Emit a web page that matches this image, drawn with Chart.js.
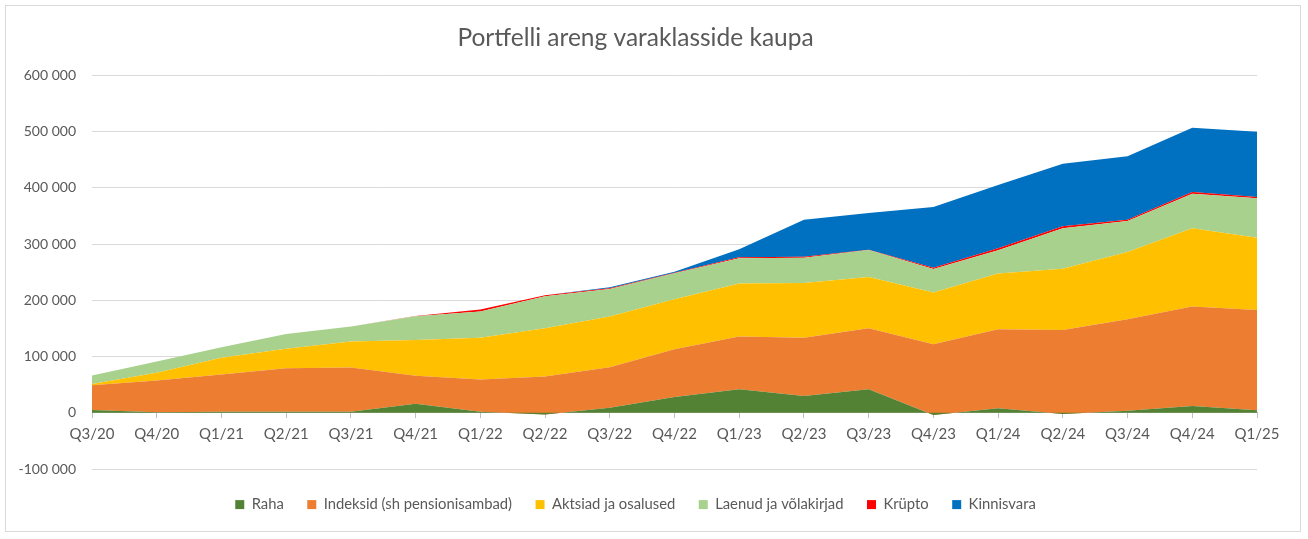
<!DOCTYPE html>
<html>
<head>
<meta charset="utf-8">
<script src="https://cdn.jsdelivr.net/npm/chart.js@4.4.1/dist/chart.umd.min.js"></script>
<style>
  html, body { margin: 0; padding: 0; background: #fff; }
  #wrap { position: relative; width: 1308px; height: 539px; }
  #frame { position: absolute; left: 5px; top: 5px; width: 1294px; height: 525px; border: 1px solid #d9d9d9; pointer-events: none; }
</style>
</head>
<body>
<div id="wrap">
  <canvas id="chart" width="1308" height="539"></canvas>
  <div id="frame"></div>
</div>
<script>
// Quarters on the x axis
const quarters = ['Q3/20', 'Q4/20', 'Q1/21', 'Q2/21', 'Q3/21', 'Q4/21', 'Q1/22', 'Q2/22', 'Q3/22', 'Q4/22',
  'Q1/23', 'Q2/23', 'Q3/23', 'Q4/23', 'Q1/24', 'Q2/24', 'Q3/24', 'Q4/24', 'Q1/25'];

// Values per asset class (EUR)
const raha        = [5000, 1000, 2000, 2000, 2000, 16000, 2000, -3000, 9000, 28000, 42000, 30000, 42000, -4000, 8000, -2000, 3500, 12000, 4700];
const indeksid    = [44000, 56400, 66100, 77300, 78500, 49700, 57200, 67500, 72100, 85100, 93600, 103200, 108400, 126000, 140600, 149400, 162900, 176800, 178200];
const aktsiad     = [2000, 13600, 29600, 34400, 46200, 63900, 74000, 85900, 90000, 88800, 94100, 97700, 91100, 91700, 98900, 108900, 119500, 139200, 128500];
const laenud      = [15100, 20200, 18900, 26600, 26600, 42100, 46800, 56800, 49100, 46100, 45000, 45000, 48000, 42000, 41400, 71700, 55100, 61500, 69900];
const krypto      = [0, 0, 0, 0, 0, 500, 3500, 2000, 1200, 1000, 2000, 1700, 500, 2400, 3500, 3500, 2400, 3000, 2300];
const kinnisvara  = [0, 0, 0, 0, 0, 0, 0, 0, 1800, 2000, 14000, 65800, 65200, 107800, 112500, 111300, 113000, 114300, 116000];

const seriesNames = ['Raha', 'Indeksid (sh pensionisambad)', 'Aktsiad ja osalused', 'Laenud ja võlakirjad', 'Krüpto', 'Kinnisvara'];
const seriesValues = [raha, indeksid, aktsiad, laenud, krypto, kinnisvara];
const seriesColors = ['#548235', '#ED7D31', '#FFC000', '#A9D18E', '#FF0000', '#0070C0'];

const yTicks = [-100000, 0, 100000, 200000, 300000, 400000, 500000, 600000];

const textColor = '#595959';
const fontFamily = 'Lato, "Open Sans", sans-serif';

// Thousands separated by a space, like the spreadsheet does
function formatNumber(v) {
  return String(v).replace(/\B(?=(\d{3})+(?!\d))/g, ' ');
}

const datasets = seriesNames.map((name, i) => ({
  label: name,
  data: seriesValues[i],
  backgroundColor: seriesColors[i],
  borderColor: seriesColors[i],
  borderWidth: 0,
  pointRadius: 0,
  tension: 0,
  fill: i === 0 ? 'origin' : '-1'
}));

new Chart(document.getElementById('chart'), {
  type: 'line',
  data: { labels: quarters, datasets: datasets },
  options: {
    responsive: false,
    animation: false,
    devicePixelRatio: 1,
    layout: { padding: { left: 14, right: 51, top: 0, bottom: 17 } },
    plugins: {
      title: {
        display: true,
        text: 'Portfelli areng varaklasside kaupa',
        color: textColor,
        font: { family: fontFamily, size: 24.5, weight: 'normal' },
        padding: { top: 23, bottom: 23 }
      },
      legend: {
        position: 'bottom',
        // empty title only used as spacing above the legend row
        title: { display: true, text: '', font: { size: 1 }, padding: { top: 0, bottom: 3.5 } },
        labels: {
          color: textColor,
          font: { family: fontFamily, size: 14.8 },
          boxWidth: 9,
          boxHeight: 9,
          padding: 23.5
        }
      },
      tooltip: { enabled: false }
    },
    scales: {
      x: {
        position: { y: 0 },
        offset: false,
        grid: { drawOnChartArea: false, drawTicks: true, tickLength: 5, color: '#bfbfbf' },
        border: { display: true, color: '#bfbfbf', width: 1 },
        ticks: { color: textColor, font: { family: fontFamily, size: 15 }, padding: 7, maxRotation: 0, autoSkip: false }
      },
      y: {
        stacked: 'single',
        min: -100000,
        max: 600000,
        afterFit: (scale) => { scale.width = 78; },
        afterBuildTicks: (scale) => { scale.ticks = yTicks.map(v => ({ value: v })); },
        grid: { color: '#d9d9d9', drawTicks: false },
        border: { display: false },
        ticks: { color: textColor, font: { family: fontFamily, size: 14 }, padding: 16, callback: (v) => formatNumber(v) }
      }
    }
  }
});
</script>
</body>
</html>
